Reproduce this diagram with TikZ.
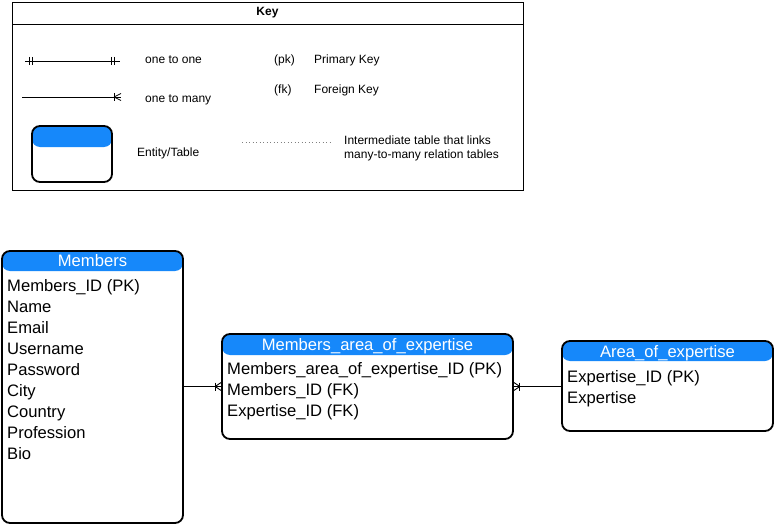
\documentclass[tikz,border=0pt]{standalone}
\usepackage{fontspec}
\setmainfont{Liberation Sans}
\definecolor{hblue}{RGB}{22,136,250}
\newcommand\bigf{\fontsize{16.6}{21}\selectfont}
\newcommand\smallf{\fontsize{12}{14}\selectfont}
\begin{document}
\begin{tikzpicture}[x=1pt,y=-1pt,
  ent/.style={draw, line width=1.8pt, rounded corners=8pt, inner sep=0pt, fill=white},
  hdr/.style={path picture={\fill[hblue] (path picture bounding box.north west) rectangle ([yshift=-#1]path picture bounding box.north east);}},
  ttl/.style={text=white, font=\bigf, inner sep=0pt, anchor=base},
  row/.style={font=\bigf, inner sep=0pt, anchor=base west},
  lbl/.style={font=\smallf, inner sep=0pt, anchor=west},
  conn/.style={line width=0.9pt},
  thin/.style={line width=0.8pt}
]
\useasboundingbox (0,0) rectangle (774,527);

% ---------- Key ----------
\node[draw, line width=0.9pt, minimum width=511pt, minimum height=188pt, inner sep=0pt] (key) at (267.5,96) {};
\coordinate (kl) at (12,24);
\coordinate (kr) at (523,24);
\draw[line width=0.9pt] (kl) -- (kr);
\node[font=\smallf\bfseries, inner sep=0pt] (keyt) at (267.5,13) {Key};

% one to one
\coordinate (a1) at (25,61);
\coordinate (a2) at (120,61);
\draw[thin] (a1) -- (a2);
\draw[thin] ([xshift=4.5pt]a1) ++(0,-4) -- ++(0,8);
\draw[thin] ([xshift=7pt]a1) ++(0,-4) -- ++(0,8);
\draw[thin] ([xshift=-8.5pt]a2) ++(0,-4) -- ++(0,8);
\draw[thin] ([xshift=-6pt]a2) ++(0,-4) -- ++(0,8);
\node[lbl] (l1) at (145,60) {one to one};

% one to many
\coordinate (b1) at (22,97);
\coordinate (b2) at (121,97);
\draw[thin] (b1) -- (b2);
\draw[thin] ([xshift=-7pt]b2) ++(0,-4) -- ++(0,8);
\draw[thin] ([xshift=-7pt]b2) -- ++(7,-3.5);
\draw[thin] ([xshift=-7pt]b2) -- ++(7,3.5);
\node[lbl] (l2) at (145,100) {one to many};

% entity icon
\node[ent, hdr=21pt, minimum width=80pt, minimum height=56pt] (icon) at (72,154) {};
\node[lbl] (l3) at (137,153) {Entity/Table};

% pk / fk
\node[lbl] (pk) at (274,60) {(pk)};
\node[lbl] (pkt) at (314,60) {Primary Key};
\node[lbl] (fk) at (274,90) {(fk)};
\node[lbl] (fkt) at (314,90) {Foreign Key};

% dotted
\coordinate (d1) at (242,142);
\coordinate (d2) at (332,142);
\draw[line width=0.6pt, gray, dash pattern=on 0.7pt off 2.8pt] (d1) -- (d2);
\node[font=\smallf, inner sep=0pt, anchor=north west, align=left] (l4) at (344,136) {Intermediate table that links\\many-to-many relation tables};

% ---------- Tables ----------
\node[ent, hdr=20pt, minimum width=181pt, minimum height=272pt] (mem) at (92.5,387) {};
\node[ttl] (memt) at (92.5,266) {Members};
\foreach \t [count=\i from 0] in {Members\_ID (PK),Name,Email,Username,Password,City,Country,Profession,Bio}
  \node[row] (memr\i) at (7,{291.5+21*\i}) {\t};

\node[ent, hdr=21pt, minimum width=291pt, minimum height=105pt] (mae) at (367.5,386.5) {};
\node[ttl] (maet) at (367.5,350) {Members\_area\_of\_expertise};
\foreach \t [count=\i from 0] in {Members\_area\_of\_expertise\_ID (PK),Members\_ID (FK),Expertise\_ID (FK)}
  \node[row] (maer\i) at (227,{374.5+21*\i}) {\t};

\node[ent, hdr=20pt, minimum width=211pt, minimum height=90pt] (aoe) at (667.5,386) {};
\node[ttl] (aoet) at (667.5,357) {Area\_of\_expertise};
\foreach \t [count=\i from 0] in {Expertise\_ID (PK),Expertise}
  \node[row] (aoer\i) at (567,{382.5+21*\i}) {\t};

% ---------- Connectors ----------
\draw[conn] (mem.east |- mae.west) -- (mae.west);
\draw[conn] ([xshift=-6pt]mae.west) ++(0,-4) -- ++(0,8);
\draw[conn] ([xshift=-6pt]mae.west) -- ++(6,-4);
\draw[conn] ([xshift=-6pt]mae.west) -- ++(6,4);

\draw[conn] (mae.east) -- (mae.east -| aoe.west);
\draw[conn] ([xshift=6pt]mae.east) ++(0,-4) -- ++(0,8);
\draw[conn] ([xshift=6pt]mae.east) -- ++(-6,-4);
\draw[conn] ([xshift=6pt]mae.east) -- ++(-6,4);
\end{tikzpicture}
\end{document}
